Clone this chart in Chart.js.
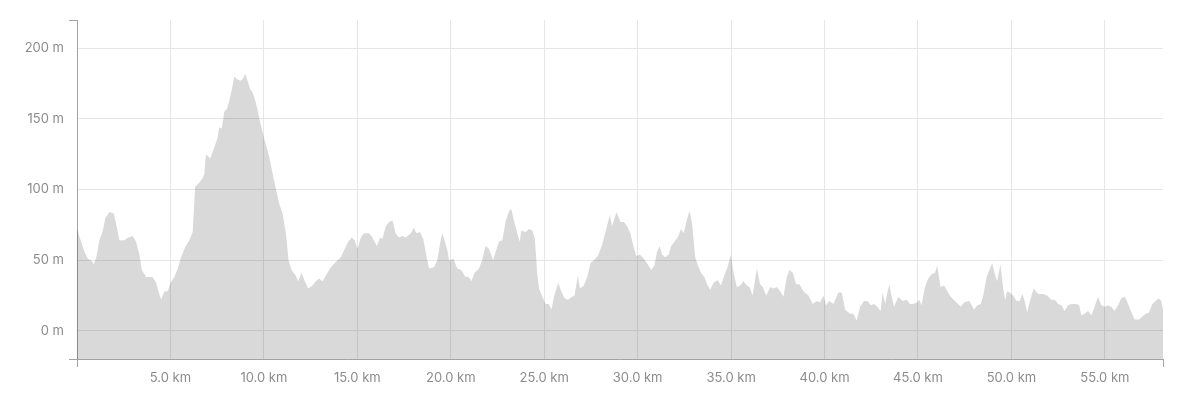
<!DOCTYPE html>
<html>
<head>
<meta charset="utf-8">
<script src="https://cdn.jsdelivr.net/npm/chart.js@4/dist/chart.umd.min.js"></script>
<style>
  body { margin: 0; background: #fff; }
</style>
</head>
<body>
<canvas id="myChart" width="1200" height="413"></canvas>
<script>
// distance along the route (km) and elevation (m)
const distKm = [
  0, 0.22, 0.40, 0.58, 0.76, 0.90, 1.03, 1.20, 1.38, 1.52, 1.74, 1.97, 2.09, 2.27, 2.54, 2.72, 2.98, 3.16, 3.34, 3.47,
  3.70, 4.05, 4.23, 4.36, 4.50, 4.68, 4.85, 5.00, 5.21, 5.39, 5.57, 5.78, 6.01, 6.19, 6.32, 6.55, 6.72, 6.81, 6.90, 7.13,
  7.35, 7.53, 7.61, 7.74, 7.88, 8.02, 8.15, 8.27, 8.42, 8.56, 8.74, 8.86, 9.00, 9.13, 9.27, 9.39, 9.58, 9.81, 10.02, 10.29,
  10.55, 10.82, 11.00, 11.18, 11.32, 11.48, 11.71, 11.84, 12.01, 12.19, 12.37, 12.60, 12.78, 12.96, 13.14, 13.31, 13.58, 13.94, 14.12, 14.29,
  14.51, 14.69, 14.86, 15.01, 15.19, 15.36, 15.63, 15.81, 16.04, 16.22, 16.34, 16.52, 16.70, 16.88, 17.05, 17.23, 17.41, 17.59, 17.86, 18.03,
  18.16, 18.35, 18.53, 18.71, 18.84, 19.10, 19.28, 19.46, 19.55, 19.67, 19.82, 19.91, 20.14, 20.35, 20.56, 20.79, 20.97, 21.10, 21.27, 21.51,
  21.68, 21.86, 22.04, 22.27, 22.40, 22.58, 22.76, 22.94, 23.13, 23.24, 23.38, 23.56, 23.69, 23.77, 24.01, 24.18, 24.36, 24.50, 24.63, 24.72,
  24.90, 25.07, 25.25, 25.39, 25.52, 25.75, 25.91, 26.09, 26.27, 26.49, 26.62, 26.80, 26.91, 27.12, 27.30, 27.48, 27.66, 27.87, 28.10, 28.28,
  28.51, 28.63, 28.87, 29.08, 29.26, 29.44, 29.61, 29.79, 29.93, 30.11, 30.33, 30.54, 30.72, 30.89, 31.04, 31.18, 31.30, 31.48, 31.66, 31.79,
  31.96, 32.14, 32.32, 32.46, 32.64, 32.78, 32.91, 33.08, 33.26, 33.39, 33.57, 33.74, 33.89, 34.06, 34.28, 34.45, 34.63, 34.81, 34.99, 35.13,
  35.31, 35.49, 35.66, 35.84, 35.99, 36.15, 36.38, 36.55, 36.70, 36.88, 37.09, 37.27, 37.45, 37.63, 37.80, 37.98, 38.12, 38.30, 38.48, 38.66,
  38.87, 39.14, 39.37, 39.58, 39.76, 39.94, 40.08, 40.26, 40.47, 40.74, 40.92, 41.10, 41.36, 41.54, 41.72, 41.90, 42.11, 42.29, 42.47, 42.65,
  42.82, 43.00, 43.11, 43.24, 43.36, 43.47, 43.59, 43.72, 43.95, 44.18, 44.39, 44.57, 44.75, 44.93, 45.07, 45.19, 45.37, 45.55, 45.73, 45.91,
  46.03, 46.21, 46.39, 46.57, 46.75, 46.98, 47.29, 47.46, 47.75, 48.00, 48.18, 48.36, 48.49, 48.67, 48.85, 48.97, 49.11, 49.24, 49.41, 49.56,
  49.66, 49.77, 49.91, 50.09, 50.27, 50.44, 50.59, 50.71, 50.84, 51.01, 51.19, 51.43, 51.69, 51.91, 52.14, 52.32, 52.50, 52.67, 52.85, 53.03,
  53.21, 53.47, 53.62, 53.74, 53.92, 54.10, 54.28, 54.45, 54.63, 54.81, 54.99, 55.16, 55.34, 55.52, 55.70, 55.88, 56.06, 56.18, 56.36, 56.59,
  56.82, 57.00, 57.18, 57.36, 57.54, 57.71, 57.89, 58.02, 58.11
];
const elevM = [
  72, 63, 56, 51, 50, 47, 52, 64, 71, 80, 84, 83, 76, 64, 64, 66, 67, 63, 54, 43,
  38, 38, 34, 28, 22, 28, 28, 34, 38, 44, 52, 59, 64, 70, 102, 105, 108, 111, 125, 122,
  130, 137, 144, 143, 155, 157, 163, 170, 180, 178, 177, 178, 182, 177, 171, 169, 161, 147, 136, 123,
  106, 90, 83, 69, 50, 43, 39, 35, 41, 35, 30, 32, 35, 37, 35, 39, 45, 50, 52, 57,
  63, 66, 64, 58, 66, 69, 69, 66, 60, 66, 65, 74, 77, 78, 69, 66, 67, 66, 69, 73,
  69, 70, 65, 52, 44, 45, 50, 64, 69, 64, 57, 50, 51, 44, 43, 38, 38, 35, 41, 44,
  50, 60, 58, 50, 56, 63, 64, 78, 85, 86, 78, 69, 63, 71, 70, 72, 71, 65, 40, 30,
  24, 19, 19, 15, 24, 34, 28, 23, 22, 24, 25, 39, 30, 32, 38, 48, 50, 53, 61, 70,
  82, 74, 84, 77, 77, 74, 69, 59, 53, 54, 51, 47, 43, 46, 56, 60, 54, 52, 54, 60,
  63, 66, 72, 69, 79, 85, 76, 52, 45, 41, 38, 32, 29, 34, 36, 32, 39, 45, 54, 41,
  31, 32, 35, 32, 31, 25, 44, 33, 31, 25, 31, 30, 31, 28, 24, 38, 43, 41, 33, 33,
  28, 25, 19, 21, 20, 25, 18, 21, 19, 27, 27, 15, 12, 12, 7, 17, 21, 21, 18, 19,
  17, 14, 27, 19, 27, 33, 24, 17, 24, 21, 22, 19, 19, 20, 22, 18, 31, 37, 40, 41,
  46, 31, 32, 28, 24, 21, 17, 20, 21, 15, 18, 19, 25, 38, 44, 48, 40, 35, 47, 30,
  22, 28, 27, 25, 21, 21, 26, 21, 13, 22, 30, 26, 26, 25, 22, 22, 19, 18, 14, 18,
  19, 19, 18, 11, 12, 14, 11, 17, 24, 18, 17, 18, 17, 14, 18, 23, 24, 21, 15, 8,
  8, 10, 12, 13, 19, 21, 23, 21, 15
];
const xTicks = [0, 5, 10, 15, 20, 25, 30, 35, 40, 45, 50, 55, 58.11];
const yTicks = [-20, 0, 50, 100, 150, 200, 220];

const axisGrey = '#a3a3a3';
const gridGrey = '#e6e6e6';
const labelGrey = '#8c8c8c';

function isEnd(ctx, list) {
  return ctx.index === 0 || ctx.index === list.length - 1;
}

let ctx = document.getElementById('myChart').getContext('2d');
let myChart = new Chart(ctx, {
  type: 'line',
  data: {
    datasets: [
      {
        label: 'Elevation',
        data: distKm.map((d, i) => ({ x: d, y: elevM[i] })),
        backgroundColor: 'rgba(0, 0, 0, 0.15)',
        borderWidth: 0,
        borderColor: 'rgba(0, 0, 0, 0)',
        pointRadius: 0,
        tension: 0,
        fill: 'start',
      },
    ],
  },
  options: {
    responsive: false,
    devicePixelRatio: 1,
    animation: false,
    layout: {
      padding: { top: 20, right: 37, bottom: 0, left: 0 },
    },
    plugins: {
      legend: { display: false },
      tooltip: { enabled: false },
    },
    scales: {
      x: {
        type: 'linear',
        min: 0,
        max: 58.11,
        afterBuildTicks: (scale) => { scale.ticks = xTicks.map(v => ({ value: v })); },
        afterFit: (scale) => { scale.height = 54; },
        border: { color: axisGrey, width: 1 },
        grid: {
          color: (c) => isEnd(c, xTicks) ? 'rgba(0,0,0,0)' : gridGrey,
          tickColor: (c) => isEnd(c, xTicks) ? axisGrey : 'rgba(0,0,0,0)',
          tickLength: 8,
        },
        ticks: {
          autoSkip: false,
          maxRotation: 0,
          padding: 3,
          color: labelGrey,
          font: { family: 'Inter', size: 13 },
          callback: (v, i) => (i === 0 || i === xTicks.length - 1) ? '' : v.toFixed(1) + ' km',
        },
      },
      y: {
        type: 'linear',
        min: -20,
        max: 220,
        afterBuildTicks: (scale) => { scale.ticks = yTicks.map(v => ({ value: v })); },
        afterFit: (scale) => { scale.width = 77; },
        border: { color: axisGrey, width: 1 },
        grid: {
          color: (c) => isEnd(c, yTicks) ? 'rgba(0,0,0,0)' : gridGrey,
          tickColor: (c) => isEnd(c, yTicks) ? axisGrey : 'rgba(0,0,0,0)',
          tickLength: 8,
        },
        ticks: {
          padding: 5,
          color: labelGrey,
          font: { family: 'Inter', size: 13 },
          callback: (v) => (v % 50 === 0) ? v + ' m' : '',
        },
      },
    },
  },
});
</script>
</body>
</html>
